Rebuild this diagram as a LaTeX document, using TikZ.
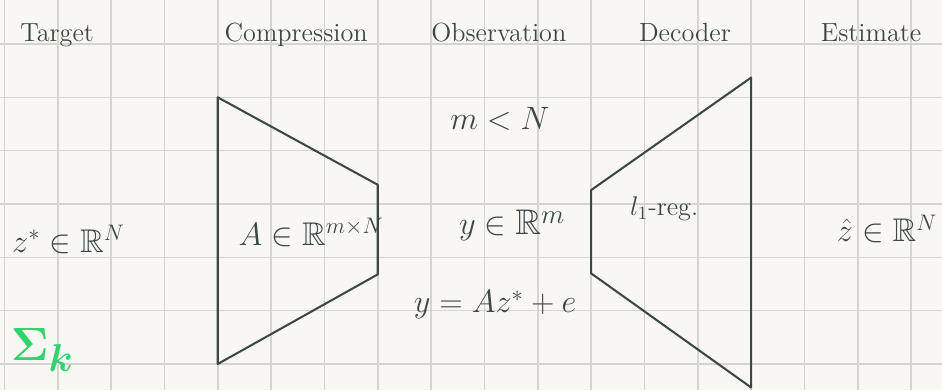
\documentclass[tikz,border=0pt]{standalone}
\usepackage{amsmath,amssymb}
\definecolor{ink}{RGB}{60,72,72}
\definecolor{paper}{RGB}{249,247,243}
\definecolor{rule}{RGB}{214,212,206}
\definecolor{marker}{RGB}{48,212,110}
\begin{document}
\begin{tikzpicture}[every node/.style={inner sep=0pt, outer sep=0pt, text=ink},
  title/.style={anchor=base, font=\fontsize{14}{16}\selectfont},
  formula/.style={anchor=base, font=\fontsize{17.5}{20}\selectfont},
  block/.style={draw=ink, line width=1.1pt, line join=round}]

\fill[paper] (-0.083,-6.488) rectangle (17.58,0.825);
\useasboundingbox (-0.083,-6.488) rectangle (17.58,0.825);
\draw[rule, line width=0.8pt] (-0.083,-6.488) grid (17.58,0.825);

\node[title] (target) at (0.99,0.05) {Target};
\node[title] (compr) at (5.47,0.05) {Compression};
\node[title] (obs) at (9.27,0.05) {Observation};
\node[title] (dec) at (12.76,0.05) {Decoder};
\node[title] (est) at (16.25,0.05) {Estimate};

\draw[block] (4,-1) -- (7,-2.64) -- (7,-4.32) -- (4,-6) -- cycle;
\draw[block] (11,-2.74) -- (14,-0.63) -- (14,-6.44) -- (11,-4.30) -- cycle;

\node[formula] (zstar) at (1.2,-3.9) {$z^*\in\mathbb{R}^N$};
\node[anchor=base west, text=marker, font=\fontsize{28}{32}\selectfont] (sigk) at (0.12,-5.93) {$\boldsymbol{\Sigma}_{\boldsymbol{k}}$};
\node[formula] (amat) at (5.75,-3.77) {$A\in\mathbb{R}^{m\times N}$};
\node[formula] (mlessn) at (9.29,-1.61) {$m<N$};
\node[formula, font=\fontsize{19}{22}\selectfont] (yobs) at (9.52,-3.58) {$y\in\mathbb{R}^m$};
\node[formula] (yeq) at (9.2,-5.04) {$y=Az^*+e$};
\node[formula, font=\fontsize{14}{17}\selectfont] (lreg) at (12.37,-3.21) {$l_1$-reg.};
\node[formula] (zhat) at (16.55,-3.71) {$\hat{z}\in\mathbb{R}^N$};
\end{tikzpicture}
\end{document}
